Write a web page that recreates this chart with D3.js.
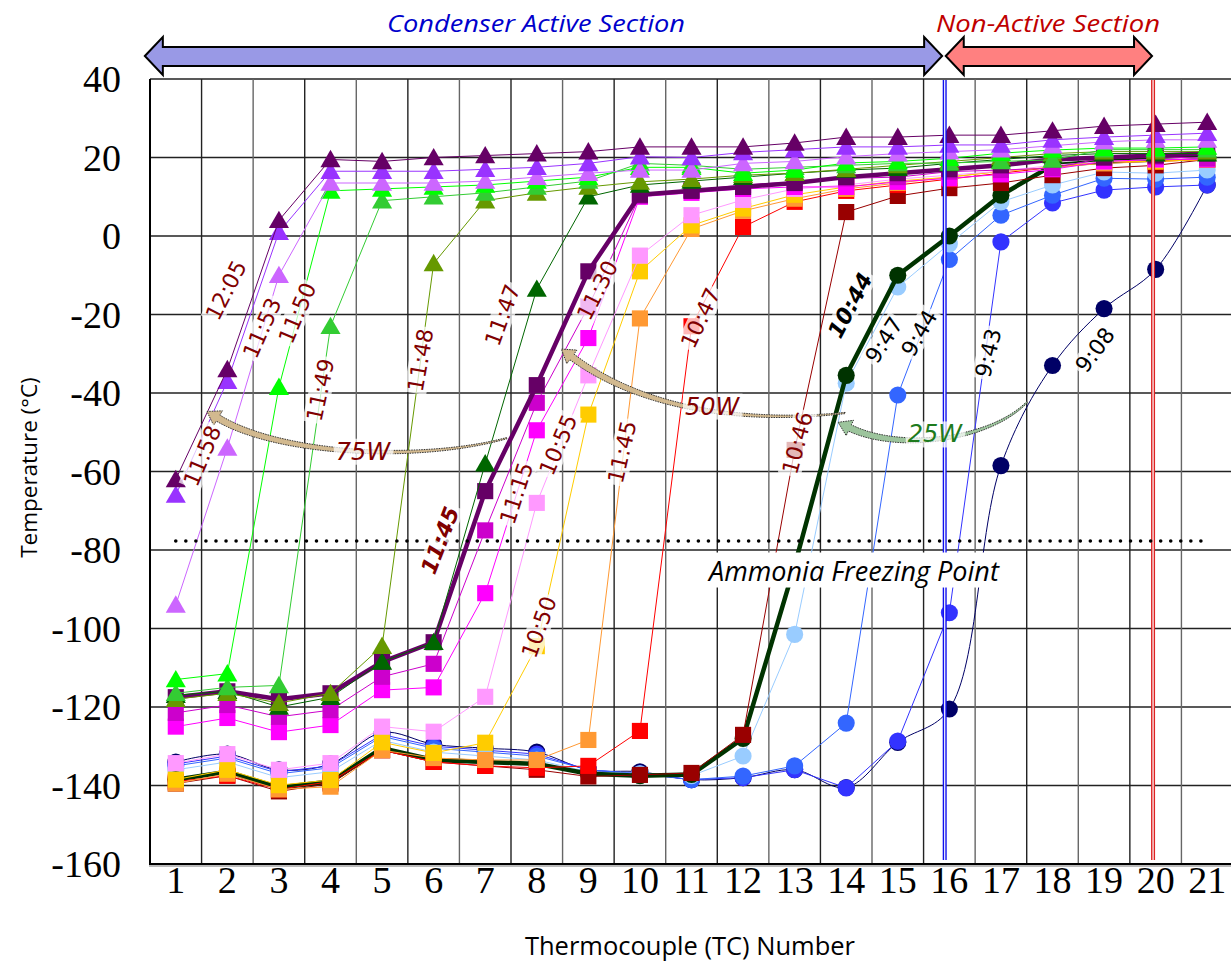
<!DOCTYPE html>
<html>
<head>
<meta charset="utf-8">
<script src="https://cdn.jsdelivr.net/npm/d3@7"></script>
<style>
  body { margin: 0; background: #fff; }
  svg { display: block; }
</style>
</head>
<body>
<svg id="chart" width="1231" height="962"></svg>
<script>
// Thermocouple positions along the condenser and the temperature ticks
const tcNumbers = d3.range(1, 22);
const yTickValues = [40, 20, 0, -20, -40, -60, -80, -100, -120, -140, -160];
const ammoniaFreezing = -77.7;

// 75 W start-up (triangles)
const t1205 = [-62, -34, 4, 19.5, 19, 20, 20.5, 21, 21.5, 22.7, 22.7, 22.7, 23.7, 25.2, 25.2, 25.7, 25.7, 26.8, 28, 28.5, 29];
const t1158 = [-66, -37, 1, 16.5, 16.5, 16.5, 17, 17.5, 18.5, 20.2, 20, 21.3, 22, 22.7, 22.7, 23.2, 23.2, 24.5, 25.2, 25.7, 26.2];
const t1153 = [-94, -54, -10, 13.5, 13.5, 13.5, 14, 15, 16, 16.8, 16.8, 18.5, 19, 20.2, 21, 21.5, 22, 23, 24, 24.5, 24.5];
const t1150 = [-113, -111.5, -38.5, 11.5, 12, 12.5, 13, 14, 15, 17.5, 17.5, 16, 16.8, 18.6, 19, 19.8, 21.1, 21.9, 22.4, 22.4, 22.7];
const t1149 = [-116.5, -115, -114.5, -23, 9, 10, 11, 12.5, 14, 18.5, 18, 17, 17.5, 18, 18.5, 18.6, 19, 19.4, 22, 22, 22];
const t1148 = [-118, -116.5, -119, -116.5, -104.5, -7, 9, 11, 12.5, 13.8, 14.5, 15.5, 16, 17, 18, 19, 20, 21, 21.5, 21.5, 21.5];
const t1147 = [-117, -116, -120, -117.5, -108.5, -103.5, -58, -13.5, 10, 13, 14, 15, 16, 16.8, 17.3, 18.5, 19.5, 20.5, 21, 21, 21];

// 50 W start-up (squares)
const s1145b = [-117.5, -116, -118, -116.5, -108.5, -103.5, -65, -38, -9, 10.5, 11.5, 12.5, 13.5, 15, 16, 17, 18, 19.5, 20, 20.5, 21];
const s1130 = [-121.5, -119.5, -122.5, -120.8, -112.3, -109, -75, -42.5, -18, 10.2, 11.7, 13, 13.8, 14.7, 15, 16.4, 16.8, 17.3, 19.9, 20.2, 19.8];
const s1115 = [-125, -122.8, -126.4, -124.6, -115.7, -115, -91, -49.5, -26, 10, 11, 12, 12.5, 12.5, 13.8, 14.7, 15.7, 17, 19, 19.5, 19.5];
const s1055 = [-134.3, -132, -136, -134.3, -125, -126.3, -117.4, -68, -35.5, -5, 5.3, 9.2, 12, 13, 14.5, 15.5, 16.5, 18, 19, 19.5, 20];
const s1050 = [-138.5, -136, -139.9, -138.6, -129, -131.7, -129.1, -104.5, -45.5, -9, 2.7, 7, 10.5, 12.5, 14, 15, 16.5, 17.5, 19, 19, 19.5];
const s1145 = [-139.5, -137, -141, -140.3, -131, -133, -133.5, -133.5, -128.4, -21, 1.8, 6.4, 9.5, 12, 13.5, 15, 16.5, 17.5, 18.5, 19, 19.5];
const s1047 = [-139, -137.5, -141, -139, -131, -134, -135, -135.5, -135, -126.1, -23, 2.3, 8.7, 11.5, 13, 14.5, 16, 17.5, 19, 19, 19.5];
const s1046 = [-139.5, -137.5, -141.5, -139.5, -131, -134, -135, -136, -137.7, -137.3, -136.8, -127.1, -54.5, 6.1, 10.2, 12.2, 13.5, 15.5, 17.3, 18, 19.5];

// 25 W start-up (circles)
const c1044 = [-138.5, -136.5, -140.5, -139, -130.5, -133.5, -134, -134.5, -137, -137.5, -137.2, -128, -84, -35.5, -10, 0, 10.4, 18, 19, 19.5, 20.5];
const c947 = [-136, -134, -138, -136.5, -128.5, -131.5, -132.5, -133.5, -136.5, -137, -137.5, -132.5, -101.5, -37.5, -13, -2, 8.7, 13, 16.3, 16, 16.8];
const c944 = [-135, -133, -137, -135.5, -127.5, -130.5, -131.5, -132.5, -136, -137, -138.5, -137.6, -135, -124.1, -40.5, -6, 5.3, 10.4, 14.7, 14.5, 15];
const c943 = [-134.5, -132.5, -136.5, -135, -127, -130, -131, -132, -136, -137, -138.5, -138, -136, -140.6, -128.7, -96, -1.5, 8.4, 11.7, 12.5, 13];
const c908 = [-134, -132, -136, -134.5, -126.5, -129.5, -130.5, -131.5, -136, -136.5, -138.5, -138, -136, -140.5, -129, -120.5, -58.5, -33, -18.5, -8.5, 13];

// Drawing order: circles, then squares, then triangles
const seriesTable = [
  { values: c908,  color: "#000066", marker: "circle",   width: 1, smooth: true },
  { values: c943,  color: "#3333FF", marker: "circle",   width: 1 },
  { values: c944,  color: "#3366FF", marker: "circle",   width: 1 },
  { values: c947,  color: "#99CCFF", marker: "circle",   width: 1 },
  { values: c1044, color: "#003300", marker: "circle",   width: 4.5 },
  { values: s1046, color: "#990000", marker: "square",   width: 1 },
  { values: s1047, color: "#FF0000", marker: "square",   width: 1 },
  { values: s1145, color: "#FF9933", marker: "square",   width: 1 },
  { values: s1050, color: "#FFCC00", marker: "square",   width: 1 },
  { values: s1055, color: "#FF99FF", marker: "square",   width: 1 },
  { values: s1115, color: "#FF00FF", marker: "square",   width: 1 },
  { values: s1130, color: "#CC00CC", marker: "square",   width: 1 },
  { values: s1145b, color: "#660066", marker: "square",  width: 4.5 },
  { values: t1147, color: "#006600", marker: "triangle", width: 1 },
  { values: t1148, color: "#669900", marker: "triangle", width: 1 },
  { values: t1149, color: "#33CC33", marker: "triangle", width: 1 },
  { values: t1150, color: "#00FF00", marker: "triangle", width: 1 },
  { values: t1153, color: "#CC66FF", marker: "triangle", width: 1 },
  { values: t1158, color: "#9933FF", marker: "triangle", width: 1 },
  { values: t1205, color: "#660066", marker: "triangle", width: 1 }
];

// Time labels placed along the curves: [TC position, temperature, angle]
const timeLabels = [
  { text: "12:05", tc: 1.97, t: -13.8, angle: -63, color: "#800000" },
  { text: "11:58", tc: 1.51, t: -56,   angle: -67, color: "#800000" },
  { text: "11:53", tc: 2.67, t: -23.4, angle: -66, color: "#800000" },
  { text: "11:50", tc: 3.35, t: -19.6, angle: -67, color: "#800000" },
  { text: "11:49", tc: 3.80, t: -39.2, angle: -78, color: "#800000" },
  { text: "11:48", tc: 5.74, t: -31.6, angle: -80, color: "#800000" },
  { text: "11:47", tc: 7.33, t: -20.1, angle: -70, color: "#800000" },
  { text: "11:30", tc: 9.17, t: -13.8, angle: -63, color: "#800000" },
  { text: "11:45", tc: 6.12, t: -77.5, angle: -69, color: "#800000", bold: true },
  { text: "11:15", tc: 7.60, t: -65.5, angle: -72, color: "#800000" },
  { text: "10:55", tc: 8.41, t: -53.2, angle: -67, color: "#800000" },
  { text: "11:45", tc: 9.65, t: -55,   angle: -77, color: "#800000" },
  { text: "10:50", tc: 8.04, t: -99.6, angle: -70, color: "#800000" },
  { text: "10:47", tc: 11.17, t: -20.9, angle: -65, color: "#800000" },
  { text: "10:46", tc: 13.05, t: -52.7, angle: -75, color: "#800000" },
  { text: "10:44", tc: 14.07, t: -17.6, angle: -62, color: "#000000", bold: true },
  { text: "9:47",  tc: 14.73, t: -26.5, angle: -57, color: "#000000" },
  { text: "9:44",  tc: 15.41, t: -24.7, angle: -60, color: "#000000" },
  { text: "9:43",  tc: 16.75, t: -29.8, angle: -76, color: "#000000" },
  { text: "9:08",  tc: 18.82, t: -29,   angle: -53, color: "#000000" }
];

// Heater power call-outs: curved arrow [tail, ctrl1, ctrl2, head] in data units
const powerLabels = [
  { text: "75W", tc: 4.63, t: -54.8, color: "#800000", fill: "#D2B98F",
    path: [[7.42, -51.5], [5.74, -57.6], [3.02, -55.8], [1.82, -46.4]] },
  { text: "50W", tc: 11.40, t: -43.3, color: "#800000", fill: "#D2B98F",
    path: [[13.98, -45.1], [11.94, -47.9], [10.0, -43.8], [8.68, -30.8]] },
  { text: "25W", tc: 15.72, t: -50.4, color: "#1E7B1E", fill: "#9CC49C",
    path: [[17.51, -42.3], [16.79, -52], [15.04, -55], [14.07, -48.9]] }
];

const svg = d3.select("#chart");
const x = d3.scaleLinear().domain([0.5, 21.5]).range([150, 1233]);
const y = d3.scaleLinear().domain([-160, 40]).range([864, 79]);
const plotRight = 1231;

svg.append("defs").append("clipPath").attr("id", "plotClip")
  .append("rect").attr("x", 150).attr("y", 70).attr("width", plotRight - 150).attr("height", 800);

// Grid
const grid = svg.append("g");
grid.selectAll("line.h").data(yTickValues).join("line")
  .attr("x1", 150).attr("x2", plotRight)
  .attr("y1", d => y(d)).attr("y2", d => y(d))
  .attr("stroke", "#222").attr("stroke-width", 1.3);
grid.selectAll("line.v").data(d3.range(1.5, 21.6, 1)).join("line")
  .attr("x1", d => x(d)).attr("x2", d => x(d))
  .attr("y1", y(40)).attr("y2", y(-160))
  .attr("stroke", (d, i) => i % 2 ? "#666" : "#222").attr("stroke-width", 1.4);

// Axis frame
svg.append("line").attr("x1", 150).attr("x2", 150).attr("y1", y(40)).attr("y2", y(-160))
  .attr("stroke", "#000").attr("stroke-width", 2);
svg.append("line").attr("x1", 149).attr("x2", plotRight).attr("y1", y(-160)).attr("y2", y(-160))
  .attr("stroke", "#000").attr("stroke-width", 2);
svg.append("line").attr("x1", 149).attr("x2", plotRight).attr("y1", y(-160) + 2).attr("y2", y(-160) + 2)
  .attr("stroke", "#bbb").attr("stroke-width", 2);

// Tick labels
svg.append("g").selectAll("text").data(yTickValues).join("text")
  .attr("x", 121).attr("y", d => y(d)).attr("dy", "0.35em")
  .attr("text-anchor", "end")
  .attr("font-family", "Liberation Serif, serif").attr("font-size", 38)
  .text(d => d);
svg.append("g").selectAll("text").data(tcNumbers).join("text")
  .attr("x", d => x(d)).attr("y", 893)
  .attr("text-anchor", "middle")
  .attr("font-family", "Liberation Serif, serif").attr("font-size", 38)
  .text(d => d);

// Axis titles
svg.append("text")
  .attr("transform", `translate(29,${y(-59)}) rotate(-90)`)
  .attr("text-anchor", "middle").attr("dy", "0.35em")
  .attr("font-family", "Open Sans, sans-serif").attr("font-size", 22.5)
  .text("Temperature (°C)");
svg.append("text")
  .attr("x", 690).attr("y", 955).attr("text-anchor", "middle")
  .attr("font-family", "Open Sans, sans-serif").attr("font-size", 25.5)
  .text("Thermocouple (TC) Number");

// Series
const plot = svg.append("g").attr("clip-path", "url(#plotClip)");
const markerPath = {
  circle: d3.symbol().type(d3.symbolCircle).size(230)(),
  square: d3.symbol().type(d3.symbolSquare).size(260)(),
  triangle: d3.symbol().type(d3.symbolTriangle).size(175)()
};
seriesTable.forEach(s => {
  const pts = s.values.map((v, i) => [tcNumbers[i], v]);
  const line = d3.line()
    .x(d => x(d[0])).y(d => y(d[1]))
    .curve(s.smooth ? d3.curveCatmullRom.alpha(0.5) : d3.curveLinear);
  const g = plot.append("g");
  g.append("path").attr("d", line(pts))
    .attr("fill", "none").attr("stroke", s.color)
    .attr("stroke-width", s.width).attr("stroke-linejoin", "round");
  g.selectAll("path.m").data(pts).join("path")
    .attr("class", "m")
    .attr("transform", d => `translate(${x(d[0])},${y(d[1]) + (s.marker === "triangle" ? 2 : 0)})`)
    .attr("d", markerPath[s.marker])
    .attr("fill", s.color);
});

// Section boundaries (double lines)
[[15.91, "#1010EE"], [19.95, "#DD2222"]].forEach(([tc, col]) => {
  svg.append("line").attr("x1", x(tc)).attr("x2", x(tc)).attr("y1", y(40) + 1).attr("y2", 860)
    .attr("stroke", col).attr("stroke-width", 4);
  svg.append("line").attr("x1", x(tc)).attr("x2", x(tc)).attr("y1", y(40) + 1).attr("y2", 860)
    .attr("stroke", "#fff").attr("stroke-width", 1.2);
});

// Ammonia freezing point
svg.append("line")
  .attr("x1", x(1)).attr("x2", x(21))
  .attr("y1", y(ammoniaFreezing)).attr("y2", y(ammoniaFreezing))
  .attr("stroke", "#000").attr("stroke-width", 3.6)
  .attr("stroke-linecap", "round").attr("stroke-dasharray", "0 10.05");

// Curved call-out arrows
function curvedArrow(p, w0, w1, headLen, headW, fill) {
  const P = p.map(d => [x(d[0]), y(d[1])]);
  const bez = t => {
    const m = 1 - t;
    return [0, 1].map(k => m * m * m * P[0][k] + 3 * m * m * t * P[1][k] + 3 * m * t * t * P[2][k] + t * t * t * P[3][k]);
  };
  const tan = t => {
    const m = 1 - t;
    const d = [0, 1].map(k => 3 * m * m * (P[1][k] - P[0][k]) + 6 * m * t * (P[2][k] - P[1][k]) + 3 * t * t * (P[3][k] - P[2][k]));
    const l = Math.hypot(d[0], d[1]);
    return [d[0] / l, d[1] / l];
  };
  const left = [], right = [];
  const n = 40;
  for (let i = 0; i <= n; i++) {
    const t = i / n, b = bez(t), u = tan(t), w = (w0 + (w1 - w0) * t) / 2;
    left.push([b[0] - u[1] * w, b[1] + u[0] * w]);
    right.push([b[0] + u[1] * w, b[1] - u[0] * w]);
  }
  const b = bez(1), u = tan(1), hw = headW / 2;
  const tip = [b[0] + u[0] * headLen, b[1] + u[1] * headLen];
  const hl = [b[0] - u[1] * hw, b[1] + u[0] * hw];
  const hr = [b[0] + u[1] * hw, b[1] - u[0] * hw];
  const poly = left.concat([hl, tip, hr]).concat(right.reverse());
  svg.append("path")
    .attr("d", "M" + poly.map(q => q.join(",")).join("L") + "Z")
    .attr("fill", fill).attr("stroke", "#333").attr("stroke-width", 1)
    .attr("stroke-dasharray", "1.5 1");
}
powerLabels.forEach(p => curvedArrow(p.path, 1.2, 7, 13, 17, p.fill));

// Rotated time labels with translucent backgrounds
function addLabel(cx, cy, angle, text, color, opts) {
  const g = svg.append("g").attr("transform", `translate(${cx},${cy}) rotate(${angle})`);
  const rect = g.append("rect");
  const t = g.append("text")
    .attr("text-anchor", "middle").attr("dy", "0.36em")
    .attr("font-family", opts.family || "DejaVu Sans, sans-serif")
    .attr("font-size", opts.size)
    .attr("font-style", opts.italic ? "italic" : "normal")
    .attr("font-weight", opts.bold ? "bold" : "normal")
    .attr("fill", color).text(text);
  const bb = t.node().getBBox();
  rect.attr("x", bb.x - 2).attr("y", bb.y + 1).attr("width", bb.width + 4).attr("height", bb.height - 2)
    .attr("fill", "#fff").attr("opacity", opts.bgOpacity);
}
timeLabels.forEach(d => addLabel(x(d.tc), y(d.t), d.angle, d.text, d.color,
  { size: 22, bold: d.bold, italic: d.bold, bgOpacity: 0.72 }));
powerLabels.forEach(d => addLabel(x(d.tc), y(d.t), 0, d.text, d.color,
  { size: 24, italic: true, bgOpacity: 0.72 }));
addLabel(x(14.15), y(-85.3), 0, "Ammonia Freezing Point", "#000",
  { size: 27, italic: true, family: "Open Sans, sans-serif", bgOpacity: 1 });

// Section arrows above the plot
function doubleArrow(x0, x1, fill) {
  const cy = 56, hb = 37, ht = 75, bt = 47, bbm = 66, hl = 18;
  const pts = [[x0, cy], [x0 + hl, hb], [x0 + hl, bt], [x1 - hl, bt], [x1 - hl, hb], [x1, cy],
               [x1 - hl, ht], [x1 - hl, bbm], [x0 + hl, bbm], [x0 + hl, ht]];
  svg.append("path").attr("d", "M" + pts.map(q => q.join(",")).join("L") + "Z")
    .attr("fill", fill).attr("stroke", "#000").attr("stroke-width", 2).attr("stroke-linejoin", "miter");
}
doubleArrow(x(0.4), x(15.86), "#9999E6");
doubleArrow(x(15.93), x(19.93), "#FF8080");

svg.append("text").attr("x", 536).attr("y", 32).attr("text-anchor", "middle")
  .attr("font-family", "Open Sans, sans-serif").attr("font-style", "italic").attr("font-size", 24)
  .attr("textLength", 298).attr("lengthAdjust", "spacingAndGlyphs")
  .attr("fill", "#0000CC").text("Condenser Active Section");
svg.append("text").attr("x", 1048).attr("y", 32).attr("text-anchor", "middle")
  .attr("font-family", "Open Sans, sans-serif").attr("font-style", "italic").attr("font-size", 24)
  .attr("textLength", 224).attr("lengthAdjust", "spacingAndGlyphs")
  .attr("fill", "#C00000").text("Non-Active Section");
</script>
</body>
</html>
